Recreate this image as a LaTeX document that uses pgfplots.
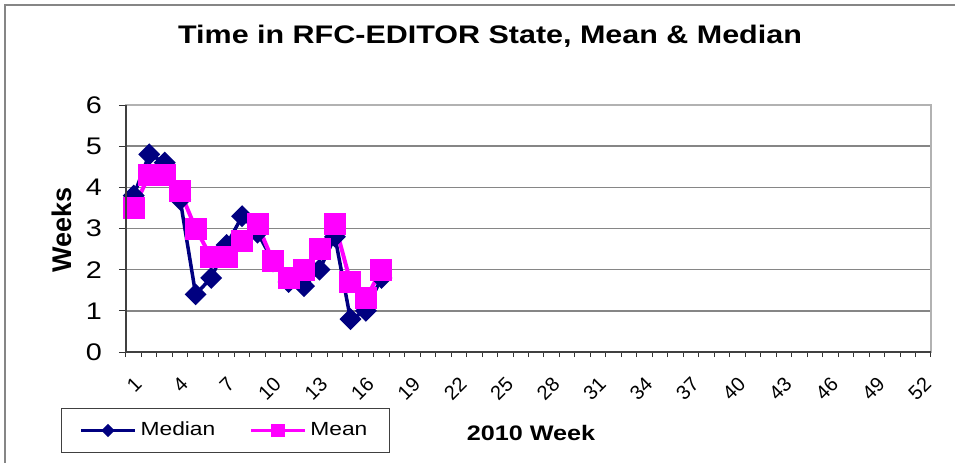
\documentclass[border=0pt]{standalone}
\usepackage{pgfplots}
\pgfplotsset{compat=1.18}
\usepackage{fontspec}
\setmainfont{Liberation Sans}[FakeStretch=1.2]
\newfontfamily\plainsans{Liberation Sans}
\definecolor{medblue}{HTML}{000080}
\definecolor{meanpink}{HTML}{FF00FF}
\definecolor{gridgray}{HTML}{868686}
\begin{document}
\begin{tikzpicture}
\path[use as bounding box] (-63pt,-55pt) rectangle (414.5pt,176pt);
\draw[gridgray, line width=1pt] (-60.5pt,-56pt) -- (-60.5pt,173.5pt) -- (415pt,173.5pt);
\begin{axis}[
  at={(0,0)}, anchor=south west,
  scale only axis, width=402.5pt, height=123.5pt,
  xmin=0.5, xmax=52.5, ymin=0, ymax=6,
  xtick={1,4,...,52}, minor xtick={0.5,1.5,...,52.5},
  ytick={0,...,6},
  xtick pos=bottom, ytick pos=left,
  tick align=outside,
  major x tick style={draw=none},
  minor x tick style={black!80, line width=0.5pt},
  minor tick length=2.5pt,
  major tick length=3.5pt,
  y tick style={black!80, line width=0.5pt},
  ymajorgrids,
  major grid style={gridgray, line width=0.75pt},
  axis line style={draw=gray!60, line width=0.75pt},
  extra description/.code={\draw[black!75, line width=0.75pt] (0,1) -- (0,0) -- (1,0);},
  /pgf/number format/assume math mode=true,
  yticklabel style={font=\fontsize{12}{14}\selectfont, xshift=-5pt},
  xticklabel style={font=\plainsans\fontsize{10}{11}\selectfont, xshift=3pt, yshift=-10pt, rotate=45, anchor=east, inner sep=1pt},
  title={\bfseries Time in RFC-EDITOR State, Mean \& Median},
  title style={at={(axis description cs:0.4522,1.2308)}, anchor=center, font=\fontsize{12.7}{15}\selectfont},
  xlabel={\bfseries 2010 Week},
  xlabel style={at={(axis description cs:0.5031,-0.328)}, anchor=center, font=\fontsize{10.5}{12}\selectfont},
  ylabel={\plainsans\bfseries Weeks},
  ylabel style={at={(axis description cs:-0.0795,0.494)}, anchor=center, rotate=0, font=\fontsize{13.5}{15}\selectfont},
  legend style={at={(axis description cs:0.1236,-0.3178)}, anchor=center, legend columns=2,
    draw=black!75, line width=0.5pt, font=\fontsize{9.5}{11}\selectfont,
    inner xsep=9pt, inner ysep=5pt,
    /tikz/every even column/.append style={column sep=15pt}},
  legend image code/.code={\draw[mark repeat=2,mark phase=2,#1] plot coordinates {(0pt,0pt) (13.5pt,0pt) (27pt,0pt)};},
]
\addplot[medblue, line width=1.75pt, mark=square*, mark size=3pt, mark options={rotate=45, solid},
  legend image post style={line width=1.5pt, mark size=1.6pt}] coordinates {
(1,3.8)(2,4.8)(3,4.6)(4,3.7)(5,1.4)(6,1.8)(7,2.6)(8,3.3)(9,2.9)(10,2.2)(11,1.7)(12,1.6)(13,2.0)(14,2.8)(15,0.8)(16,1.0)(17,1.8)
};
\addlegendentry{Median}
\addplot[meanpink, line width=2pt, mark=square*, mark size=4.5pt, mark options={solid},
  legend image post style={line width=1.5pt, mark size=2.6pt}] coordinates {
(1,3.5)(2,4.3)(3,4.3)(4,3.9)(5,3.0)(6,2.3)(7,2.3)(8,2.7)(9,3.1)(10,2.2)(11,1.8)(12,2.0)(13,2.5)(14,3.1)(15,1.7)(16,1.3)(17,2.0)
};
\addlegendentry{Mean}
\end{axis}
\end{tikzpicture}
\end{document}
